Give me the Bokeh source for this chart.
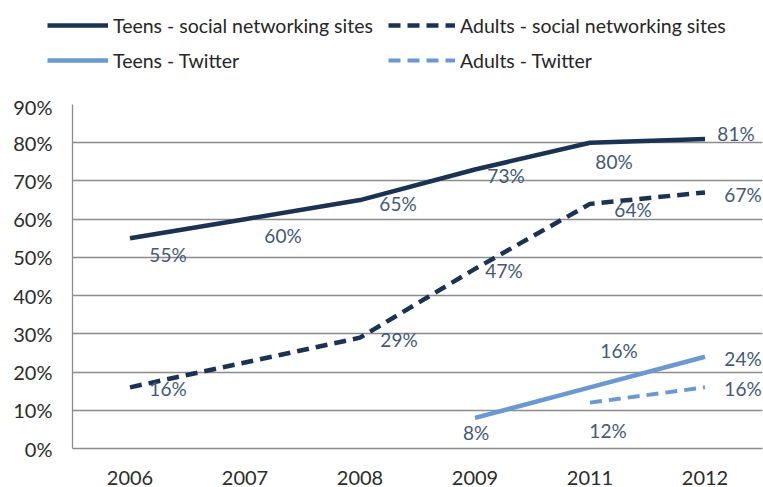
from bokeh.plotting import figure
from bokeh.layouts import column
from bokeh.models import (FactorRange, Range1d, FixedTicker, PrintfTickFormatter,
                          Legend, LegendItem, ColumnDataSource)
from bokeh.core.properties import value
from bokeh.embed import file_html
from bokeh.resources import INLINE

# ---- data ----
years = ["2006", "2007", "2008", "2009", "2011", "2012"]

teens_sns_years = ["2006", "2007", "2008", "2009", "2011", "2012"]
teens_sns = [55, 60, 65, 73, 80, 81]

adults_sns_years = ["2006", "2008", "2009", "2011", "2012"]
adults_sns = [16, 29, 47, 64, 67]

teens_tw_years = ["2009", "2011", "2012"]
teens_tw = [8, 16, 24]

adults_tw_years = ["2011", "2012"]
adults_tw = [12, 16]

y_ticks = [0, 10, 20, 30, 40, 50, 60, 70, 80, 90]

series_names = ["Teens - social networking sites", "Adults - social networking sites",
                "Teens - Twitter", "Adults - Twitter"]

# label offsets in screen pixels (styling)
teens_sns_off = [(38, 16), (38, 16), (38, 3), (31, 6), (24, 19), (31, -5)]
adults_sns_off = [(38, 1), (39, 2), (29, 2), (43, 6), (38, 2)]
teens_tw_off = [(1, 15), (29, -37), (38, 2)]
adults_tw_off = [(18, 28), (38, 1)]

NAVY = "#1B3353"
LIGHT = "#6A98D0"
LABEL_C = "#435878"
FONT = "Lato"
GRID = "#8C8C8C"

styles = [
    dict(line_color=NAVY, line_width=4.5),
    dict(line_color=NAVY, line_width=4.5, line_dash="12 7"),
    dict(line_color=LIGHT, line_width=4.5),
    dict(line_color=LIGHT, line_width=4, line_dash="12 7"),
]

# ---- main chart ----
p = figure(width=763, height=393, x_range=FactorRange(factors=years, range_padding=0),
           y_range=Range1d(0, 90), output_backend="svg", toolbar_location=None,
           min_border_left=72, min_border_right=1, min_border_top=10, min_border_bottom=39)
p.outline_line_color = None

p.xgrid.grid_line_color = None
p.ygrid.ticker = FixedTicker(ticks=y_ticks)
p.ygrid.grid_line_color = GRID
p.ygrid.grid_line_width = 1.3

p.yaxis.ticker = FixedTicker(ticks=y_ticks)
p.yaxis.formatter = PrintfTickFormatter(format="%d%%")
p.yaxis.minor_tick_line_color = None
p.yaxis.major_label_standoff = 20
p.xaxis.major_label_standoff = 22
for ax in (p.xaxis, p.yaxis):
    ax.axis_line_color = GRID
    ax.axis_line_width = 1.3
    ax.major_tick_line_color = None
    ax.major_tick_out = 0
    ax.major_tick_in = 0
    ax.major_label_text_font = FONT
    ax.major_label_text_font_size = "20px"
    ax.major_label_text_color = "#2B2B2B"

p.line(teens_sns_years, teens_sns, **styles[0])
p.line(adults_sns_years, adults_sns, **styles[1])
p.line(teens_tw_years, teens_tw, **styles[2])
p.line(adults_tw_years, adults_tw, **styles[3])

def labels(xs, ys, offs):
    src = ColumnDataSource(dict(x=xs, y=ys, t=[f"{v}%" for v in ys],
                                dx=[o[0] for o in offs], dy=[o[1] for o in offs]))
    p.text(x="x", y="y", text="t", x_offset="dx", y_offset="dy", source=src,
           text_font=value(FONT), text_font_size="19px", text_color=LABEL_C,
           text_align="center", text_baseline="middle")

labels(teens_sns_years, teens_sns, teens_sns_off)
labels(adults_sns_years, adults_sns, adults_sns_off)
labels(teens_tw_years, teens_tw, teens_tw_off)
labels(adults_tw_years, adults_tw, adults_tw_off)

# ---- legend strip ----
lg = figure(width=763, height=94, x_range=Range1d(0, 763), y_range=Range1d(0, 94),
            x_axis_location=None, y_axis_location=None,
            output_backend="svg", toolbar_location=None,
            min_border_left=0, min_border_right=0, min_border_top=0, min_border_bottom=0)
lg.grid.visible = False
lg.outline_line_color = None
try:
    lg.frame_align = False
    p.frame_align = False
except Exception:
    pass
# legend proxies, placed outside the visible strip
rs = [lg.line([-50, -40], [-50, -50], **s) for s in styles]

common = dict(orientation="vertical", glyph_height=24, label_height=24, label_standoff=5,
              spacing=11, padding=0, margin=0, border_line_color=None,
              background_fill_alpha=0, label_text_font=FONT, label_text_font_size="19.5px",
              label_text_color="#262626")
leg1 = Legend(items=[LegendItem(label=series_names[0], renderers=[rs[0]]),
                     LegendItem(label=series_names[2], renderers=[rs[2]])],
              location=(47, 22), glyph_width=61, **common)
leg2 = Legend(items=[LegendItem(label=series_names[1], renderers=[rs[1]]),
                     LegendItem(label=series_names[3], renderers=[rs[3]])],
              location=(388, 22), glyph_width=67, **common)
lg.add_layout(leg1, "center")
lg.add_layout(leg2, "center")

open("out.html", "w").write(file_html(column(lg, p, spacing=0), INLINE))
